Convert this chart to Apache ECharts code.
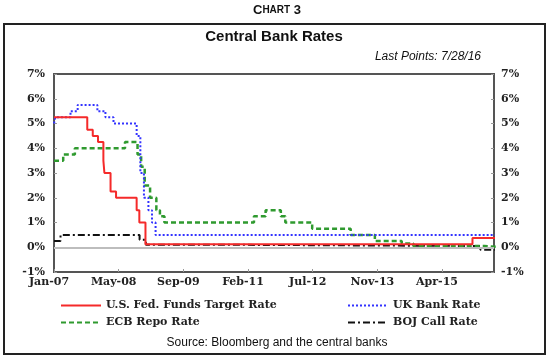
<!DOCTYPE html>
<html>
<head>
<meta charset="utf-8">
<script src="https://cdn.jsdelivr.net/npm/echarts@6/dist/echarts.min.js"></script>
<style>html,body{margin:0;padding:0;background:#fff;}#c{width:550px;height:359px;}</style>
</head>
<body>
<div id="c"></div>
<script>
// ---- data ----
const tickLabels = ['Jan-07','May-08','Sep-09','Feb-11','Jul-12','Nov-13','Apr-15'];
const endDate = '2016-07-28';

const fedDates = ['2007-01-01','2007-09-18','2007-10-31','2007-12-11','2008-01-22','2008-01-30','2008-03-18','2008-04-30','2008-10-08','2008-10-29','2008-12-16','2015-12-16'];
const fedRates = [5.25,4.75,4.50,4.25,3.50,3.00,2.25,2.00,1.50,1.00,0.125,0.375];

const ukDates = ['2007-01-01','2007-01-11','2007-05-10','2007-07-05','2007-12-06','2008-02-07','2008-04-10','2008-10-08','2008-11-06','2008-12-04','2009-01-08','2009-02-05','2009-03-05'];
const ukRates = [5.00,5.25,5.50,5.75,5.50,5.25,5.00,4.50,3.00,2.00,1.50,1.00,0.50];

const ecbDates = ['2007-01-01','2007-03-14','2007-06-13','2008-07-09','2008-10-15','2008-11-12','2008-12-10','2009-01-21','2009-03-11','2009-04-08','2009-05-13','2011-04-13','2011-07-13','2011-11-09','2011-12-14','2012-07-11','2013-05-08','2013-11-13','2014-06-11','2014-09-10','2016-03-16'];
const ecbRates = [3.50,3.75,4.00,4.25,3.75,3.25,2.50,2.00,1.50,1.25,1.00,1.25,1.50,1.25,1.00,0.75,0.50,0.25,0.15,0.05,0.00];

const bojDates = ['2007-01-01','2007-02-21','2008-10-31','2008-12-19','2010-10-05','2016-02-16'];
const bojRates = [0.25,0.50,0.30,0.10,0.05,-0.10];

const seriesNames = ['U.S. Fed. Funds Target Rate','UK Bank Rate','ECB Repo Rate','BOJ Call Rate'];

// ---- helpers ----
const T0 = Date.UTC(2007,0,1);
function yrs(s){const p=s.split('-').map(Number);return (Date.UTC(p[0],p[1]-1,p[2])-T0)/(365.25*86400000);}
function build(dates,rates){
  const d = dates.map((s,i)=>[yrs(s),rates[i]]);
  d.push([yrs(endDate),rates[rates.length-1]]);
  return d;
}
const XINT = 1.384, XMAX = 9.416;

const chart = echarts.init(document.getElementById('c'), null, {renderer:'canvas'});
const serif = 'DejaVu Serif';
const axisLbl = {fontFamily:serif,fontWeight:'bold',fontSize:11,color:'#222'};

const yBase = {
  type:'value', min:-1, max:7, interval:1,
  axisLine:{show:true,lineStyle:{color:'#555',width:2}},
  axisTick:{show:true,inside:true,length:3,lineStyle:{color:'#999'}},
  splitLine:{show:false}
};
const legendBase = {orient:'vertical',top:300,itemWidth:40,itemHeight:10,itemGap:6,padding:0,
  itemStyle:{opacity:0},
  textStyle:{fontFamily:serif,fontWeight:'bold',fontSize:11,color:'#222'},selectedMode:false};

chart.setOption({
  animation:false,
  grid:{left:54,top:74,width:440,height:198,show:true,borderColor:'#555',borderWidth:2,backgroundColor:'transparent'},
  xAxis:{
    type:'value', min:0, max:XMAX, interval:XINT,
    axisLine:{onZero:false,show:true,lineStyle:{color:'#555',width:2}},
    axisTick:{show:true,inside:true,length:3,lineStyle:{color:'#999'}},
    splitLine:{show:false},
    axisLabel:Object.assign({margin:5,showMaxLabel:false,padding:[0,10,0,0],
      formatter:function(v){const i=Math.round(v/XINT);if(Math.abs(v-i*XINT)>1e-6)return '';return tickLabels[i]||'';}},axisLbl)
  },
  yAxis:[
    Object.assign({position:'left',axisLabel:Object.assign({margin:9,formatter:'{value}%'},axisLbl)},yBase),
    Object.assign({position:'right',axisLabel:Object.assign({margin:7,formatter:'{value}%'},axisLbl)},yBase)
  ],
  legend:[
    Object.assign({data:[seriesNames[0],seriesNames[2]],left:60},legendBase),
    Object.assign({data:[seriesNames[1],seriesNames[3]],left:347},legendBase)
  ],
  series:[
    {name:seriesNames[3],type:'line',step:'end',symbol:'none',data:build(bojDates,bojRates),
     lineStyle:{color:'#111',width:2,type:[7,3,2,3]},itemStyle:{color:'#111'},z:2,
     markLine:{silent:true,symbol:['none','none'],label:{show:false},animation:false,
       lineStyle:{color:'#bdbdbd',width:2,type:'solid'},data:[{yAxis:0}]}},
    {name:seriesNames[2],type:'line',step:'end',symbol:'none',data:build(ecbDates,ecbRates),
     lineStyle:{color:'#2f9a2f',width:2.5,type:[5,3]},itemStyle:{color:'#2f9a2f'},z:3},
    {name:seriesNames[1],type:'line',step:'end',symbol:'none',data:build(ukDates,ukRates),
     lineStyle:{color:'#3333ff',width:2,type:[2,2]},itemStyle:{color:'#3333ff'},z:4},
    {name:seriesNames[0],type:'line',step:'end',symbol:'none',data:build(fedDates,fedRates),
     lineStyle:{color:'#f52a2a',width:2,type:'solid'},itemStyle:{color:'#f52a2a'},z:5}
  ],
  graphic:[
    {type:'rect',shape:{x:4,y:24,width:541,height:330},style:{fill:'none',stroke:'#222',lineWidth:2},silent:true,z:0},
    {type:'text',x:277,y:10,style:{text:'{a|C}{b|HART}{a| 3}',textAlign:'center',textVerticalAlign:'middle',
      rich:{a:{fontFamily:'Liberation Sans',fontWeight:'bold',fontSize:13,fill:'#111'},b:{fontFamily:'Liberation Sans',fontWeight:'bold',fontSize:10,fill:'#111'}}}},
    {type:'text',x:274,y:37,style:{text:'Central Bank Rates',textAlign:'center',textVerticalAlign:'middle',
      fontFamily:'Liberation Sans',fontWeight:'bold',fontSize:15,fill:'#111'}},
    {type:'text',x:481,y:57,style:{text:'Last Points: 7/28/16',textAlign:'right',textVerticalAlign:'middle',
      fontFamily:'Liberation Sans',fontStyle:'italic',fontSize:12,fill:'#111'}},
    {type:'text',x:277,y:343,style:{text:'Source: Bloomberg and the central banks',textAlign:'center',textVerticalAlign:'middle',
      fontFamily:'Liberation Sans',fontSize:12,fill:'#111'}}
  ]
});
</script>
</body>
</html>
